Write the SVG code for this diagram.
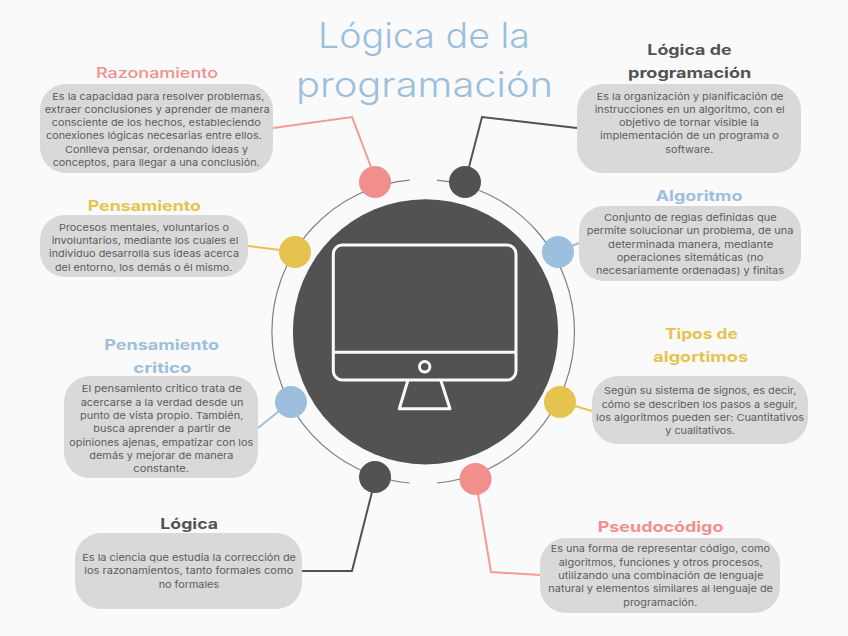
<svg xmlns="http://www.w3.org/2000/svg" width="848" height="636" viewBox="0 0 848 636">
<style>
text{font-family:Inter,"Liberation Sans",sans-serif}
.t{font-size:35px;font-weight:350;fill:#9bbfdd}
.h{font-size:14.5px;font-weight:650}
.b{font-size:9.4px;fill:#5c5c5c}
.box{fill:#d9d9d9}
.c{fill:none;stroke-width:2}
.pk{fill:#f08f8c}.yl{fill:#e6c34f}.bl{fill:#9bbfdd}.dk{fill:#525252}
.spk{stroke:#f59a97}.syl{stroke:#e6c34f}.sbl{stroke:#9bbfdd}.sdk{stroke:#525252}
.m{fill:none;stroke:#fafafa;stroke-width:3;stroke-linejoin:round}
</style>
<rect width="848" height="636" fill="#fafafa"/>
<g id="title">
<text class="t" x="318" y="48.3" textLength="212" lengthAdjust="spacingAndGlyphs">Lógica de la</text>
<text class="t" x="296" y="96.7" textLength="257" lengthAdjust="spacingAndGlyphs">programación</text>
</g>
<g id="connectors">
<path class="c spk" d="M273 128L352 117L371 167"/>
<path class="c sdk" d="M577 128L482 117L469 167"/>
<path class="c sbl" d="M579 243L567 248"/>
<path class="c syl" d="M248 246L280 250"/>
<path class="c sbl" d="M258 428L279 411"/>
<path class="c sdk" d="M302 571L352 571L372 492"/>
<path class="c syl" d="M575 406L592 411"/>
<path class="c spk" d="M478 494L491 572L540 575"/>
</g>
<g id="hub">
<path d="M409.5 180.2A151 152 0 0 0 409.5 483M436.9 180.2A151 152 0 0 1 436.9 483" fill="none" stroke="#808080" stroke-width="1.2"/>
<circle class="dk" cx="425.5" cy="331.8" r="132.6"/>
<rect class="m" x="333.3" y="245" width="182.7" height="135" rx="9"/>
<path class="m" d="M333.3 352.3H516M408 380L399.3 408.7H450L440.7 380"/>
<circle class="m" cx="424.7" cy="366.7" r="5.2"/>
</g>
<g id="razonamiento">
<circle class="pk" cx="375" cy="182" r="16"/>
<rect class="box" x="40" y="84" width="233" height="89" rx="26"/>
<text class="h" x="96" y="78.3" textLength="122" lengthAdjust="spacingAndGlyphs" style="fill:#f08f8c;font-weight:450">Razonamiento</text>
<text class="b" x="52.3" y="99.5" textLength="212" lengthAdjust="spacingAndGlyphs">Es la capacidad para resolver problemas,</text>
<text class="b" x="44.7" y="112.7" textLength="225" lengthAdjust="spacingAndGlyphs">extraer conclusiones y aprender de manera</text>
<text class="b" x="51.7" y="126" textLength="209" lengthAdjust="spacingAndGlyphs">consciente de los hechos, estableciendo</text>
<text class="b" x="46" y="139.3" textLength="215.7" lengthAdjust="spacingAndGlyphs">conexiones lógicas necesarias entre ellos.</text>
<text class="b" x="65" y="152.7" textLength="183" lengthAdjust="spacingAndGlyphs">Conlleva pensar, ordenando ideas y</text>
<text class="b" x="52.7" y="166" textLength="207" lengthAdjust="spacingAndGlyphs">conceptos, para llegar a una conclusión.</text>
</g>
<g id="pensamiento">
<circle class="yl" cx="295" cy="252" r="16"/>
<rect class="box" x="40" y="215" width="208" height="62" rx="25"/>
<text class="h" x="87.7" y="210.7" textLength="113.3" lengthAdjust="spacingAndGlyphs" style="fill:#e6c34f">Pensamiento</text>
<text class="b" x="59" y="230.7" textLength="170" lengthAdjust="spacingAndGlyphs">Procesos mentales, voluntarios o</text>
<text class="b" x="51.7" y="244" textLength="186.7" lengthAdjust="spacingAndGlyphs">involuntarios, mediante los cuales el</text>
<text class="b" x="49" y="257.3" textLength="190" lengthAdjust="spacingAndGlyphs">individuo desarrolla sus ideas acerca</text>
<text class="b" x="55" y="270.7" textLength="177.3" lengthAdjust="spacingAndGlyphs">del entorno, los demás o él mismo.</text>
</g>
<g id="logica-programacion">
<circle class="dk" cx="465" cy="182" r="16"/>
<rect class="box" x="577" y="84" width="224" height="89" rx="26"/>
<text class="h" x="647.3" y="55" textLength="84.3" lengthAdjust="spacingAndGlyphs" style="fill:#525252">Lógica de</text>
<text class="h" x="628" y="78.3" textLength="123.3" lengthAdjust="spacingAndGlyphs" style="fill:#525252">programación</text>
<text class="b" x="596.7" y="99.5" textLength="186.7" lengthAdjust="spacingAndGlyphs">Es la organización y planificación de</text>
<text class="b" x="594.7" y="112.7" textLength="190" lengthAdjust="spacingAndGlyphs">instrucciones en un algoritmo, con el</text>
<text class="b" x="619" y="126" textLength="140" lengthAdjust="spacingAndGlyphs">objetivo de tornar visible la</text>
<text class="b" x="600" y="139.3" textLength="179" lengthAdjust="spacingAndGlyphs">implementación de un programa o</text>
<text class="b" x="665.3" y="152.7" textLength="48" lengthAdjust="spacingAndGlyphs">software.</text>
</g>
<g id="algoritmo">
<circle class="bl" cx="558" cy="252" r="16"/>
<rect class="box" x="579" y="206" width="222" height="75" rx="25"/>
<text class="h" x="655.7" y="201" textLength="86.7" lengthAdjust="spacingAndGlyphs" style="fill:#9bbfdd">Algoritmo</text>
<text class="b" x="604" y="221" textLength="172.7" lengthAdjust="spacingAndGlyphs">Conjunto de reglas definidas que</text>
<text class="b" x="586.7" y="234.3" textLength="206.7" lengthAdjust="spacingAndGlyphs">permite solucionar un problema, de una</text>
<text class="b" x="608" y="247.7" textLength="165.3" lengthAdjust="spacingAndGlyphs">determinada manera, mediante</text>
<text class="b" x="616.7" y="261" textLength="146.7" lengthAdjust="spacingAndGlyphs">operaciones sitemáticas (no</text>
<text class="b" x="596" y="274.3" textLength="188" lengthAdjust="spacingAndGlyphs">necesariamente ordenadas) y finitas</text>
</g>
<g id="pensamiento-critico">
<circle class="bl" cx="291" cy="402" r="16"/>
<rect class="box" x="64" y="376" width="194" height="102" rx="26"/>
<text class="h" x="104.3" y="350" textLength="114.7" lengthAdjust="spacingAndGlyphs" style="fill:#9bbfdd">Pensamiento</text>
<text class="h" x="133.3" y="372.7" textLength="58.3" lengthAdjust="spacingAndGlyphs" style="fill:#9bbfdd">critico</text>
<text class="b" x="81.7" y="392.3" textLength="160" lengthAdjust="spacingAndGlyphs">El pensamiento critico trata de</text>
<text class="b" x="80.7" y="405.7" textLength="162.7" lengthAdjust="spacingAndGlyphs">acercarse a la verdad desde un</text>
<text class="b" x="80" y="419" textLength="163.3" lengthAdjust="spacingAndGlyphs">punto de vista propio. También,</text>
<text class="b" x="93.3" y="432.3" textLength="137.7" lengthAdjust="spacingAndGlyphs">busca aprender a partir de</text>
<text class="b" x="69.3" y="445.7" textLength="184" lengthAdjust="spacingAndGlyphs">opiniones ajenas, empatizar con los</text>
<text class="b" x="89.3" y="459" textLength="144" lengthAdjust="spacingAndGlyphs">demás y mejorar de manera</text>
<text class="b" x="133.3" y="472.3" textLength="55.7" lengthAdjust="spacingAndGlyphs">constante.</text>
</g>
<g id="logica">
<circle class="dk" cx="375" cy="477" r="16"/>
<rect class="box" x="75" y="533" width="227" height="76" rx="26"/>
<text class="h" x="160.3" y="529" textLength="57.7" lengthAdjust="spacingAndGlyphs" style="fill:#525252">Lógica</text>
<text class="b" x="82.3" y="561" textLength="213.7" lengthAdjust="spacingAndGlyphs">Es la ciencia que estudia la corrección de</text>
<text class="b" x="84.3" y="574.3" textLength="209" lengthAdjust="spacingAndGlyphs">los razonamientos, tanto formales como</text>
<text class="b" x="158.7" y="587.7" textLength="60.3" lengthAdjust="spacingAndGlyphs">no formales</text>
</g>
<g id="tipos-algoritmos">
<circle class="yl" cx="560" cy="402" r="16"/>
<rect class="box" x="592" y="376" width="216" height="68" rx="26"/>
<text class="h" x="665" y="339" textLength="72.7" lengthAdjust="spacingAndGlyphs" style="fill:#e6c34f">Tipos de</text>
<text class="h" x="653.3" y="361.7" textLength="94.7" lengthAdjust="spacingAndGlyphs" style="fill:#e6c34f">algortimos</text>
<text class="b" x="604" y="394.3" textLength="192.3" lengthAdjust="spacingAndGlyphs">Según su sistema de signos, es decir,</text>
<text class="b" x="601.7" y="407.7" textLength="195.7" lengthAdjust="spacingAndGlyphs">cómo se describen los pasos a seguir,</text>
<text class="b" x="596" y="421" textLength="208" lengthAdjust="spacingAndGlyphs">los algoritmos pueden ser: Cuantitativos</text>
<text class="b" x="665.3" y="434.3" textLength="69.7" lengthAdjust="spacingAndGlyphs">y cualitativos.</text>
</g>
<g id="pseudocodigo">
<circle class="pk" cx="475.5" cy="479" r="16"/>
<rect class="box" x="540" y="538" width="240" height="75" rx="26"/>
<text class="h" x="597.7" y="532.3" textLength="125.7" lengthAdjust="spacingAndGlyphs" style="fill:#f08f8c">Pseudocódigo</text>
<text class="b" x="550.7" y="552.3" textLength="219.3" lengthAdjust="spacingAndGlyphs">Es una forma de representar código, como</text>
<text class="b" x="558.7" y="565.7" textLength="204" lengthAdjust="spacingAndGlyphs">algoritmos, funciones y otros procesos,</text>
<text class="b" x="558.3" y="579" textLength="205" lengthAdjust="spacingAndGlyphs">utilizando una combinación de lenguaje</text>
<text class="b" x="548.3" y="592.3" textLength="224.7" lengthAdjust="spacingAndGlyphs">natural y elementos similares al lenguaje de</text>
<text class="b" x="623.3" y="605.7" textLength="74" lengthAdjust="spacingAndGlyphs">programación.</text>
</g>
</svg>
